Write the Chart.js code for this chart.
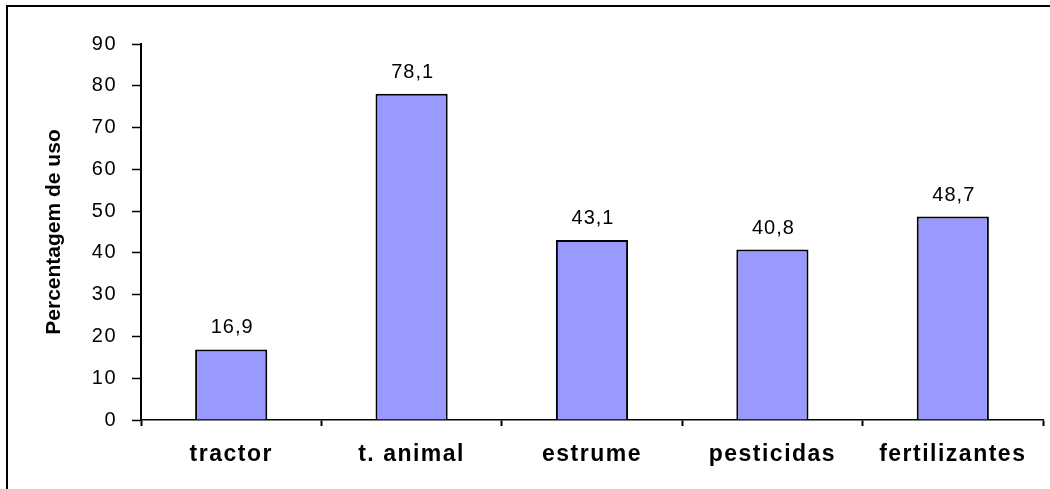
<!DOCTYPE html>
<html>
<head>
<meta charset="utf-8">
<script src="https://cdn.jsdelivr.net/npm/chart.js@4"></script>
<style>
  html, body { margin: 0; padding: 0; background: #fff; }
  #wrap { width: 1050px; height: 489px; position: relative; }
</style>
</head>
<body>
<div id="wrap"><canvas id="c" width="1050" height="489"></canvas></div>
<script>
const categories = ['tractor', 't. animal', 'estrume', 'pesticidas', 'fertilizantes'];
const usage = [16.9, 78.1, 43.1, 40.8, 48.7];
const axisTitle = 'Percentagem de uso';
const yMin = 0, yMax = 90, yStep = 10;

const FONT = '"Liberation Sans", Arial, sans-serif';

// Frame around the whole figure
const framePlugin = {
  id: 'frame',
  beforeDraw(chart) {
    const ctx = chart.ctx;
    ctx.save();
    ctx.fillStyle = '#fff';
    ctx.fillRect(0, 0, chart.width, chart.height);
    ctx.strokeStyle = '#000';
    ctx.lineWidth = 2;
    ctx.strokeRect(7, 6, 1300, 1000);
    ctx.restore();
  }
};

// Slightly wider letter spacing for the tick labels of each axis
const spacingPlugin = {
  id: 'labelSpacing',
  beforeDraw(chart) {
    const spacing = { x: '1.5px', y: '1.5px' };
    Object.keys(spacing).forEach(id => {
      const scale = chart.scales[id];
      if (!scale || scale._spaced) return;
      const orig = scale.drawLabels.bind(scale);
      scale.drawLabels = function (area) {
        const ctx = chart.ctx;
        ctx.save();
        ctx.letterSpacing = spacing[id];
        orig(area);
        ctx.restore();
      };
      scale._spaced = true;
    });
  }
};

// Value printed above each bar, decimal comma
const valueLabels = {
  id: 'valueLabels',
  afterDatasetsDraw(chart) {
    const ctx = chart.ctx;
    const meta = chart.getDatasetMeta(0);
    ctx.save();
    ctx.font = '20px ' + FONT;
    ctx.letterSpacing = '1px';
    ctx.fillStyle = '#000';
    ctx.textAlign = 'center';
    ctx.textBaseline = 'alphabetic';
    meta.data.forEach((bar, i) => {
      const txt = usage[i].toFixed(1).replace('.', ',');
      ctx.fillText(txt, bar.x + 1, bar.y - 16);
    });
    ctx.restore();
  }
};

new Chart(document.getElementById('c'), {
  type: 'bar',
  data: {
    labels: categories,
    datasets: [{
      data: usage,
      backgroundColor: '#9999FF',
      borderColor: '#000',
      borderWidth: 2,
      categoryPercentage: 0.4,
      barPercentage: 1.0
    }]
  },
  options: {
    responsive: false,
    animation: false,
    devicePixelRatio: 1,
    layout: { padding: { top: 44, right: 7, left: 0, bottom: 0 } },
    plugins: { legend: { display: false }, tooltip: { enabled: false } },
    scales: {
      y: {
        min: yMin, max: yMax,
        afterFit(scale) { scale.width = 141; },
        ticks: {
          stepSize: yStep,
          color: '#000',
          font: { family: FONT, size: 20 },
          padding: 15
        },
        grid: {
          drawOnChartArea: false,
          drawTicks: true,
          tickLength: 9,
          tickWidth: 1.5,
          tickColor: '#000'
        },
        border: { display: true, color: '#000', width: 2 },
        title: {
          display: true,
          text: axisTitle,
          color: '#000',
          font: { family: FONT, size: 21, weight: 'bold' },
          padding: { top: 42, bottom: 0 }
        }
      },
      x: {
        afterFit(scale) { scale.height = 69; },
        ticks: {
          color: '#000',
          font: { family: FONT, size: 23, weight: 'bold' },
          padding: 15,
          maxRotation: 0
        },
        grid: {
          drawOnChartArea: false,
          drawTicks: true,
          tickLength: 6,
          tickWidth: 2,
          tickColor: '#000',
          offset: true
        },
        border: { display: true, color: '#000', width: 1.5 }
      }
    }
  },
  plugins: [framePlugin, spacingPlugin, valueLabels]
});
</script>
</body>
</html>
